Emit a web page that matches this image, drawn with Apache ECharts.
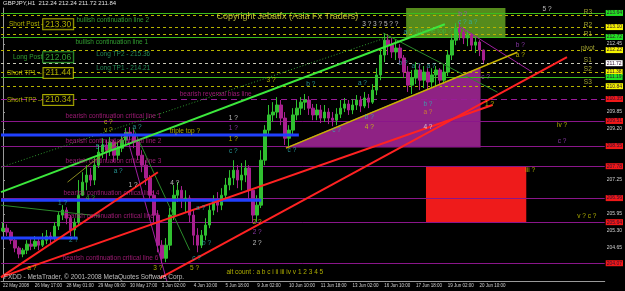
<!DOCTYPE html>
<html><head><meta charset="utf-8">
<script src="https://cdn.jsdelivr.net/npm/echarts@6/dist/echarts.min.js"></script>
<style>html,body{margin:0;padding:0;background:#000;}#c{width:625px;height:291px;}</style>
</head><body><div id="c"></div>
<script>
// ---- data (4-hour slots, prices in JPY) ----
const firstOpen = 205.30;
const closes = [205.41,205.26,204.95,204.65,204.42,204.57,204.80,204.72,204.91,204.76,204.95,205.11,205.03,205.49,205.91,206.10,205.79,205.34,205.64,206.67,207.17,207.44,207.25,207.82,208.32,208.59,208.39,208.70,208.20,208.47,208.78,209.08,208.97,208.70,208.20,207.82,207.33,206.67,205.91,204.76,204.26,204.76,205.91,206.67,206.86,206.48,206.56,205.91,205.14,204.76,205.14,205.53,206.10,206.48,206.29,206.67,207.06,207.33,207.63,207.25,207.44,207.71,206.86,205.91,206.29,208.01,209.16,209.74,209.85,210.12,209.62,208.85,209.16,209.74,210.00,210.23,210.31,210.00,209.74,209.93,209.62,209.85,209.62,209.54,209.77,210.00,210.16,209.93,210.12,210.31,210.08,210.39,210.23,210.69,211.27,212.03,212.60,212.41,212.15,212.30,211.92,211.38,210.88,211.15,211.46,211.07,211.38,211.00,211.27,211.46,211.07,211.38,212.03,212.60,213.06,212.91,212.68,212.80,212.41,212.53,212.22,211.84];
const highs = [205.64,205.56,205.34,205.03,204.72,204.65,204.95,205.03,205.11,204.99,205.22,205.34,205.26,205.64,206.02,206.29,206.21,205.91,205.79,207.25,207.55,207.82,207.71,208.09,208.59,208.85,208.78,208.89,208.78,208.70,209.01,209.24,209.28,209.20,208.85,208.39,208.01,207.44,206.86,206.10,204.95,205.03,206.18,207.06,207.17,207.02,206.86,206.67,206.10,205.41,205.34,205.79,206.29,206.67,206.79,206.94,207.33,207.63,208.01,207.82,207.90,208.01,207.82,206.94,206.67,208.39,209.35,210.12,210.23,210.42,210.31,209.85,209.35,210.00,210.31,210.42,210.54,210.46,210.16,210.16,210.12,210.12,210.00,209.85,210.00,210.31,210.39,210.31,210.35,210.50,210.46,210.62,210.54,210.92,211.53,212.30,212.87,212.80,212.68,212.60,212.45,212.03,211.61,211.46,211.76,211.69,211.61,211.53,211.53,211.61,211.53,211.69,212.22,212.83,213.25,213.29,213.06,212.99,212.87,212.72,212.60,212.24];
const lows = [205.26,205.11,204.80,204.49,204.26,204.30,204.42,204.57,204.61,204.57,204.69,204.80,204.76,204.95,205.34,205.72,205.56,205.11,205.03,205.53,206.64,206.86,207.02,207.06,207.71,208.09,208.01,208.17,207.94,208.01,208.32,208.59,208.78,208.47,208.01,207.55,207.06,206.48,205.64,204.49,204.04,204.11,204.57,205.72,206.41,206.18,206.02,205.64,204.76,204.49,204.65,204.95,205.41,205.91,206.02,206.10,206.48,206.86,207.06,206.94,206.86,207.17,206.48,205.60,205.64,206.18,207.82,208.97,209.47,209.62,209.35,208.59,208.55,208.97,209.54,209.74,209.93,209.74,209.54,209.54,209.43,209.47,209.39,209.31,209.35,209.62,209.85,209.74,209.77,209.93,209.85,210.00,210.00,210.16,210.50,211.07,211.76,212.03,211.92,211.84,211.69,211.15,210.62,210.54,210.92,210.69,210.77,210.69,210.77,210.84,210.77,210.92,211.23,211.84,212.41,212.60,212.45,212.37,212.22,212.11,211.99,211.72];
const slotCount = 152;
const dateTicks = ['22 May 2008','26 May 17:00','28 May 01:00','29 May 09:00','30 May 17:00','3 Jun 02:00','4 Jun 10:00','5 Jun 18:00','9 Jun 02:00','10 Jun 10:00','11 Jun 18:00','13 Jun 02:00','16 Jun 10:00','17 Jun 18:00','19 Jun 02:00','20 Jun 10:00'];
const priceTicks = [203.35,204.65,205.30,205.95,207.25,209.20,209.85,212.45];
const levelPrices = [213.64,213.56,213.10,212.83,212.72,212.22,211.72,211.38,211.19,210.84,210.35,209.51,208.55,207.78,206.56,205.64,204.07];
const levelKinds  = ['bull','pivotHidden','pivot','pivotHidden','bull','pivot','s1','pivot','bull','pivot','bias','crit','crit','crit','crit','crit','crit'];
// trend lines: [slotA, priceA, slotB, priceB, kind]
const trendLines = [
  [-0.5,207.74,97,212.72,'greenDot'],
  [-0.5,206.29,24.5,205.87,'greenThin'],
  [32.75,209.24,47,204.57,'greenThin'],
  [95.75,212.87,124.5,210.61,'greenThin'],
  [30.75,209.16,41.25,203.39,'magThin'],
  [16.25,207.17,32,209.08,'olive'],
  [115.25,213.10,133.25,211.38,'magThin'],
  [-0.5,208.97,74.5,208.97,'blue'],
  [-0.5,206.48,65,206.48,'blue'],
  [-0.5,205.03,18.75,205.03,'blue'],
  [71.25,208.47,129.5,212.14,'yellow'],
  [-0.5,206.79,111.25,213.21,'green'],
  [-0.5,203.54,39,207.55,'red'],
  [-0.5,203.54,123.25,210.12,'red'],
  [39.5,203.50,142,211.95,'red']
];
// filled zones: corner points [slot, price]
const zones = [
  {kind:'greenBox', pts:[[101.5,213.83],[126.5,213.83],[126.5,212.72],[101.5,212.72]]},
  {kind:'redBox', pts:[[106.5,207.78],[131.75,207.78],[131.75,205.64],[106.5,205.64]]},
  {kind:'wedge', pts:[[71.25,208.50],[120.25,211.57],[120.25,208.50]]}
];
// texts: [slot, price, text, kind]
const waveNotes = [
  [137,213.78,'5 ?','w'],[95,213.21,'3 ? 3 ? 5 ? ?','w'],[115.75,213.59,'b ?','p'],[117,213.29,'c ? a ?','c'],
  [102,212.91,'a ?','c'],[130.25,212.41,'b ?','p'],[130.25,212.03,'a ?','y'],[100.75,211.72,'b ?','c'],
  [104,211.61,'a ?','c'],[107.75,211.61,'a ?','c'],[121.5,211.19,'c ?','p'],[67.5,211.07,'3 ?','y'],
  [77.5,210.92,'b ?','c'],[90.5,210.96,'a ?','c'],[58,209.62,'1 ?','w'],[58,209.24,'1 ?','p'],
  [58,208.82,'1 ?','y'],[58,208.36,'c ?','c'],[72.75,208.39,'c ?','c'],[84,209.16,'c ?','c'],
  [92.25,209.66,'b ?','c'],[92.25,209.27,'4 ?','y'],[122.5,210.15,'1 ?','y'],[107,210.16,'b ?','c'],
  [107,209.85,'a ?','o'],[107,209.27,'4 ?','w'],[140.75,209.35,'iv ?','y'],[140.75,208.74,'c ?','p'],
  [132.75,207.63,'iii ?','y'],[147,205.87,'v ? c ?','y'],[26.5,209.47,'c ?','y'],[26.5,209.16,'v ?','y'],
  [33.75,209.27,'a ?','c'],[24.5,208.51,'5 ?','c'],[29,207.59,'a ?','c'],[32.75,207.06,'1 ?','w'],
  [43.25,207.13,'4 ?','w'],[15,206.37,'1 ?','c'],[22,206.56,'4 ?','g'],[17.75,204.95,'2 ?','c'],
  [7.25,203.88,'a ?','y'],[39,203.88,'3 ?','y'],[48.25,203.88,'5 ?','y'],[48.75,204.26,'c ?','c'],
  [49.75,206.18,'a ?','c'],[51.25,204.84,'b ?','c'],[64,205.64,'2 ?','y'],[64,205.26,'2 ?','p'],[64,204.84,'2 ?','w']
];
const lineNotes = [
  [1.5,213.21,'Short Post –','y'],[2.5,211.95,'Long Post –','g'],[1,211.34,'Short TP1 –','y'],[1,210.31,'Short TP2 –','y'],
  [18.5,213.37,'bullish continuation line 2','g'],[18.25,212.52,'bullish continuation line 1','g'],
  [23.5,212.07,'Long TP2 - 215.36','t'],[23.5,211.53,'Long TP1 - 214.21','t'],
  [44.5,210.54,'bearish reversal bias line','m'],
  [15.75,209.69,'bearish continuation critical line 1','m'],[15.75,208.74,'bearish continuation critical line 2','m'],
  [15.75,207.97,'bearish continuation critical line 3','m'],[15.25,206.75,'bearish continuation critical line 4','m'],
  [15.25,205.87,'bearish continuation critical line 5','m'],[15,204.26,'bearish continuation critical line 6','m'],
  [42,209.12,'triple top ?','y'],[104,212.94,'double top ?','g'],
  [56.25,203.73,'alt count : a b c i ii iii iv v 1 2 3 4 5','y'],
  [0.25,203.54,'FXDD - MetaTrader, © 2001-2008 MetaQuotes Software Corp.','w'],
  [146.25,213.67,'R3','k'],[146.25,213.17,'R2','k'],[146.25,212.83,'R1','k'],[145.5,212.29,'pivot','k'],
  [146.25,211.84,'S1','k'],[146.25,211.49,'S2','k'],[146.25,210.99,'S3','k']
];
const titleNote = [53.75,213.49,'Copyright Jebatfx (Asia Fx Traders)'];
const priceBoxes = [[13.9,213.21,'213.30','y'],[13.9,211.95,'212.06','g'],[13.9,211.34,'211.44','y'],[13.9,210.31,'210.34','y']];
const headerText = 'GBPJPY,H1  212.24 212.24 211.72 211.84';

// ---- styles ----
const FONT = 'Liberation Sans, DejaVu Sans, sans-serif';
const textColors = {y:'#d6d600',w:'#e4e4e4',c:'#2fb4b4',p:'#a844cc',g:'#3cc03c',o:'#d89020',m:'#c0208e',k:'#c8c83c',t:'#2aa868'};
const levelStyle = {
  bull:{color:'#3cbc1c',type:'solid',box:'#22e022'},
  pivot:{color:'#b8b400',type:[3,3],box:'#f4f400'},
  pivotHidden:{color:'#b8b400',type:[3,3],box:null},
  s1:{color:'#c8c8b8',type:[3,3],box:'#ffffff'},
  bias:{color:'#9a1a9a',type:[6,4],box:'#f01818'},
  crit:{color:'#8a168a',type:'solid',box:'#f01818'}
};
const trendStyle = {
  green:{color:'#3ce83c',width:2,type:'solid'},
  greenDot:{color:'#2f9a2f',width:1,type:[1,2]},
  greenThin:{color:'#2a8a2a',width:1,type:'solid'},
  magThin:{color:'#a020a0',width:1,type:'solid'},
  olive:{color:'#8a8a20',width:1,type:'solid'},
  blue:{color:'#2040ff',width:3,type:'solid'},
  yellow:{color:'#c8b400',width:1.5,type:'solid'},
  red:{color:'#ff2222',width:2,type:'solid'}
};
const zoneColor = {greenBox:'#558b1c',redBox:'#ee1b1b',wedge:'#8f2284'};

const candleData = closes.map((c,i)=>{
  const o = i ? closes[i-1] : firstOpen;
  return [o, c, Math.min(lows[i],o,c), Math.max(highs[i],o,c)];
});
const categories = Array.from({length:slotCount},(_,i)=>String(i));

const series = [];
zones.forEach(z=>{
  series.push({type:'custom', xAxisIndex:1, yAxisIndex:0, z:1, silent:true, data:[0],
    renderItem:(params,api)=>({type:'polygon', shape:{points:z.pts.map(p=>api.coord(p))}, style:{fill:zoneColor[z.kind]}})});
});
series.push({
  type:'candlestick', xAxisIndex:0, yAxisIndex:0, z:3, data:candleData, barWidth:3,
  itemStyle:{color:'#30c030',color0:'#a8208f',borderColor:'#30c030',borderColor0:'#a8208f',borderWidth:1},
  markLine:{symbol:['none','none'], silent:true, z:2,
    data: levelPrices.map((p,i)=>{
      const st = levelStyle[levelKinds[i]];
      return {yAxis:p, lineStyle:{color:st.color,type:st.type,width:1},
        label: st.box ? {show:true, position:'end', distance:1, formatter:p.toFixed(2), fontSize:5, fontFamily:FONT,
          color:'#301030', backgroundColor:st.box, padding:[1,1,0,1]} : {show:false}};
    })}
});
trendLines.forEach(t=>{
  const st = trendStyle[t[4]];
  series.push({type:'line', xAxisIndex:1, yAxisIndex:0, z:4, symbol:'none', silent:true,
    data:[[t[0],t[1]],[t[2],t[3]]], lineStyle:{color:st.color,width:st.width,type:st.type}});
});
series.push({type:'scatter', xAxisIndex:1, yAxisIndex:0, z:6, symbolSize:0, silent:true,
  data: waveNotes.map(n=>({value:[n[0],n[1]], label:{show:true, position:'inside', formatter:n[2], color:textColors[n[3]], fontSize:6.5, fontFamily:FONT}}))});
series.push({type:'scatter', xAxisIndex:1, yAxisIndex:0, z:6, symbolSize:0, silent:true,
  data: lineNotes.map(n=>({value:[n[0],n[1]], label:{show:true, position:'right', distance:0, formatter:n[2], color:textColors[n[3]], fontSize:6.5, fontFamily:FONT}}))
    .concat([{value:[titleNote[0],titleNote[1]], label:{show:true, position:'right', distance:0, formatter:titleNote[2], color:'#e0e040', fontSize:9, fontFamily:FONT}}])
    .concat(priceBoxes.map(b=>({value:[b[0],b[1]], label:{show:true, position:'inside', formatter:b[2], color:textColors[b[3]], fontSize:8.5, fontFamily:FONT,
      borderColor:textColors[b[3]], borderWidth:1, padding:[1,2,0,2], backgroundColor:'#000'}})))});

const chart = echarts.init(document.getElementById('c'), null, {renderer:'canvas'});
chart.setOption({
  animation:false,
  backgroundColor:'#000',
  title:{text:headerText, left:3, top:0, padding:0, textStyle:{color:'#e0e0e0', fontSize:6, fontWeight:'normal', fontFamily:FONT}},
  grid:{left:0, right:18, top:8, bottom:10},
  xAxis:[
    {type:'category', data:categories, boundaryGap:true,
      axisLine:{lineStyle:{color:'#9a9a9a'}},
      axisTick:{interval:7, alignWithLabel:true, length:2, lineStyle:{color:'#9a9a9a'}},
      axisLabel:{interval:7, align:'left', margin:2, fontSize:4.5, color:'#d0d0d0', fontFamily:FONT,
        formatter:(v,idx)=> (idx%8===0 && dateTicks[idx/8]) ? dateTicks[idx/8] : ''},
      splitLine:{show:false}},
    {type:'value', min:-0.5, max:slotCount-0.5, show:false}
  ],
  yAxis:{type:'value', position:'right', min:203.39, max:213.83, scale:true,
    axisLine:{show:true, lineStyle:{color:'#9a9a9a'}},
    axisTick:{show:true, length:2, customValues:priceTicks, lineStyle:{color:'#9a9a9a'}},
    axisLabel:{customValues:priceTicks, margin:2, fontSize:5, color:'#d0d0d0', fontFamily:FONT, formatter:v=>v.toFixed(2)},
    splitLine:{show:false}},
  series: series
});
</script></body></html>
